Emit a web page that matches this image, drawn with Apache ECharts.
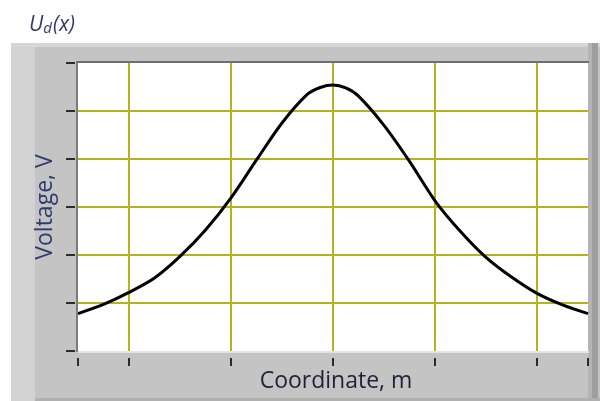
<!DOCTYPE html>
<html>
<head>
<meta charset="utf-8">
<title>Ud(x)</title>
<script src="https://cdn.jsdelivr.net/npm/echarts@6/dist/echarts.min.js"></script>
<style>
  html, body { margin: 0; padding: 0; background: #ffffff; }
  #chart { width: 600px; height: 401px; }
</style>
</head>
<body>
<div id="chart"></div>
<script>
// Voltage profile along the coordinate axis (sampled points)
const coords = [-2.5, -2.25, -2, -1.75, -1.5, -1.25, -1, -0.75, -0.5, -0.25, -0.125, 0,
                0.125, 0.25, 0.5, 0.75, 1, 1.25, 1.5, 1.75, 2, 2.25, 2.5];
const volts  = [0.78, 0.97, 1.22, 1.52, 1.97, 2.52, 3.19, 3.98, 4.75, 5.35, 5.49, 5.54,
                5.48, 5.31, 4.70, 3.95, 3.13, 2.49, 1.95, 1.54, 1.20, 0.96, 0.78];

// Axis layout values
const xRange = [-2.5, 2.5];
const xTicks = [-2.5, -2, -1, 0, 1, 2, 2.5];
const xGrid  = [-2, -1, 0, 1, 2];
const yRange = [0, 6];
const yStep  = 1;

const GRID = { left: 78, top: 63, width: 510, height: 288 };
const OLIVE = '#b4b41e';
const TICK = '#2b2b2b';
const LABEL = '#2f3b6e';

const chart = echarts.init(document.getElementById('chart'), null, { renderer: 'canvas' });

const points = coords.map((c, i) => [c, volts[i]]);

chart.setOption({
  animation: false,
  backgroundColor: '#ffffff',
  title: {
    left: 24,
    top: 9,
    text: '{a|U}{b|d}{a|(x)}',
    textStyle: {
      rich: {
        a: { fontFamily: 'Open Sans', fontStyle: 'italic', fontWeight: 'normal', fontSize: 21, color: LABEL },
        b: { fontFamily: 'Open Sans', fontStyle: 'italic', fontWeight: 'normal', fontSize: 15, color: LABEL, padding: [7, 1, 0, 0] }
      }
    }
  },
  graphic: [
    // raised gray panel
    { type: 'rect', z: -20, shape: { x: 11, y: 43, width: 589, height: 358 }, style: { fill: '#c4c4c4' } },
    { type: 'rect', z: -19, shape: { x: 11, y: 43, width: 24, height: 358 }, style: { fill: '#d2d2d2' } },
    { type: 'rect', z: -19, shape: { x: 11, y: 43, width: 589, height: 4 }, style: { fill: '#d6d6d6' } },
    { type: 'rect', z: -19, shape: { x: 588, y: 43, width: 4, height: 358 }, style: { fill: '#b4b4b4' } },
    { type: 'rect', z: -19, shape: { x: 592, y: 43, width: 6, height: 358 }, style: { fill: '#9e9e9e' } },
    { type: 'rect', z: -19, shape: { x: 35, y: 398, width: 565, height: 3 }, style: { fill: '#b0b0b0' } },
    // white plot area
    { type: 'rect', z: -18, shape: { x: GRID.left, y: GRID.top, width: GRID.width, height: GRID.height }, style: { fill: '#ffffff' } },
    // sunken frame: dark top/left, light bottom/right
    { type: 'line', z: 50, shape: { x1: 76, y1: 62, x2: 589, y2: 62 }, style: { stroke: '#6e6e6e', lineWidth: 2 } },
    { type: 'line', z: 50, shape: { x1: 77, y1: 62, x2: 77, y2: 352 }, style: { stroke: '#7c7c7c', lineWidth: 2 } },
    { type: 'line', z: 50, shape: { x1: 78, y1: 352, x2: 589, y2: 352 }, style: { stroke: '#e4e4e4', lineWidth: 2 } }
  ],
  grid: {
    left: GRID.left, top: GRID.top, width: GRID.width, height: GRID.height,
    show: false, outerBoundsMode: 'none', containLabel: false
  },
  xAxis: {
    type: 'value',
    min: xRange[0],
    max: xRange[1],
    offset: 7,
    axisLine: { show: false, onZero: false },
    axisTick: { show: true, customValues: xTicks, length: 8, lineStyle: { color: TICK, width: 2 } },
    axisLabel: { show: false },
    splitLine: { show: false },
    name: 'Coordinate, m',
    nameLocation: 'middle',
    nameGap: 12,
    nameTextStyle: { fontFamily: 'Open Sans', fontSize: 23, color: '#1e2238', verticalAlign: 'top', padding: [0, 0, 0, 6] }
  },
  yAxis: {
    type: 'value',
    min: yRange[0],
    max: yRange[1],
    interval: yStep,
    offset: 3,
    axisLine: { show: false, onZero: false },
    axisTick: { show: true, length: 9, lineStyle: { color: TICK, width: 2 } },
    axisLabel: { show: false },
    splitLine: { show: true, showMinLine: false, showMaxLine: false, lineStyle: { color: OLIVE, width: 2 } },
    name: 'Voltage, V',
    nameLocation: 'middle',
    nameGap: 18,
    nameTextStyle: { fontFamily: 'Open Sans', fontSize: 23, color: LABEL }
  },
  series: [
    {
      // vertical grid lines at the major coordinate ticks
      type: 'line',
      data: [],
      z: 1,
      silent: true,
      markLine: {
        silent: true,
        symbol: 'none',
        animation: false,
        label: { show: false },
        emphasis: { disabled: true },
        lineStyle: { color: OLIVE, width: 2, type: 'solid' },
        data: xGrid.map(v => ({ xAxis: v }))
      }
    },
    {
      type: 'line',
      data: points,
      z: 5,
      smooth: 0.3,
      symbol: 'none',
      lineStyle: { color: '#000000', width: 3 }
    }
  ]
});
</script>
</body>
</html>
